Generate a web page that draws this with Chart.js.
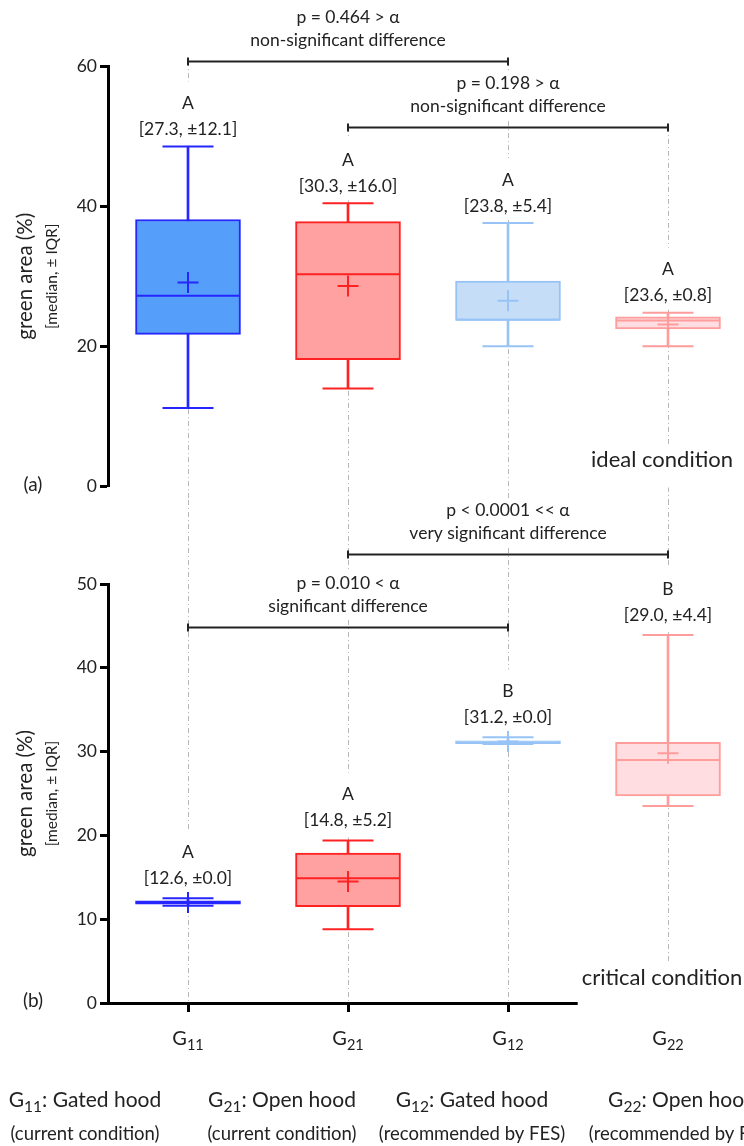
<!DOCTYPE html>
<html>
<head>
<meta charset="utf-8">
<script src="https://cdn.jsdelivr.net/npm/chart.js@4.4.1/dist/chart.umd.min.js"></script>
<style>
  html, body { margin: 0; padding: 0; background: #fff; }
  body { width: 744px; height: 1146px; overflow: hidden; position: relative; }
  #panelA { position: absolute; left: 0; top: 0; }
  #panelB { position: absolute; left: 0; top: 500px; }
</style>
</head>
<body>
<canvas id="panelA" width="760" height="500"></canvas>
<canvas id="panelB" width="760" height="646"></canvas>
<script>
// groups on the x axis
const categories = ['G11', 'G21', 'G12', 'G22'];
const hoodNames = [': Gated hood', ': Open hood', ': Gated hood', ': Open hood'];
const hoodNotes = ['(current condition)', '(current condition)', '(recommended by FES)', '(recommended by FES)'];

// (a) ideal condition - green area (%)
const idealWhiskerLow = [11.2, 14.0, 20.0, 20.0];
const idealQ1 = [21.7, 18.1, 23.7, 22.5];
const idealMedian = [27.2, 30.3, 23.8, 23.7];
const idealQ3 = [38.1, 37.8, 29.3, 24.2];
const idealWhiskerHigh = [48.5, 40.4, 37.6, 24.8];
const idealMean = [29.1, 28.6, 26.5, 23.1];
const idealLetters = ['A', 'A', 'A', 'A'];
const idealStats = ['[27.3, \u00b112.1]', '[30.3, \u00b116.0]', '[23.8, \u00b15.4]', '[23.6, \u00b10.8]'];
const idealTicks = [0, 20, 40, 60];
const idealPairs = [[0, 2], [1, 3]];
const idealPValues = ['p = 0.464 > \u03b1', 'p = 0.198 > \u03b1'];
const idealVerdicts = ['non-significant difference', 'non-significant difference'];

// (b) critical condition - green area (%)
const criticalWhiskerLow = [11.6, 8.8, 30.9, 23.5];
const criticalQ1 = [11.8, 11.5, 30.95, 24.7];
const criticalMedian = [12.0, 14.9, 31.1, 29.0];
const criticalQ3 = [12.2, 17.9, 31.3, 31.1];
const criticalWhiskerHigh = [12.5, 19.4, 31.7, 43.9];
const criticalMean = [12.0, 14.5, 31.2, 29.8];
const criticalLetters = ['A', 'A', 'B', 'B'];
const criticalStats = ['[12.6, \u00b10.0]', '[14.8, \u00b15.2]', '[31.2, \u00b10.0]', '[29.0, \u00b14.4]'];
const criticalTicks = [0, 10, 20, 30, 40, 50];
const criticalPairs = [[1, 3], [0, 2]];
const criticalPValues = ['p < 0.0001 << \u03b1', 'p = 0.010 < \u03b1'];
const criticalVerdicts = ['very significant difference', 'significant difference'];

const FONT = 'Lato, "Open Sans", "DejaVu Sans", sans-serif';
const INK = '#222';
const boxStroke = ['#2626ff', '#ff2222', '#98c3f6', '#ff9c9c'];
const boxFill = ['#559ef9', '#ffa1a1', '#c6ddf7', '#ffdde0'];
const TXT = 17.5;

function mark(data, style, r) {
  return {
    type: 'line', data, showLine: false, order: 1,
    pointStyle: style, pointRadius: r, pointHoverRadius: r,
    pointBorderWidth: 2, pointHoverBorderWidth: 2,
    pointBorderColor: boxStroke, pointBackgroundColor: boxStroke
  };
}

function boxDatasets(p) {
  return [
    { type: 'bar', data: p.low.map((v, i) => [v, p.high[i]]), backgroundColor: boxStroke,
      barThickness: 2, grouped: false, order: 3 },
    { type: 'bar', data: p.q1.map((v, i) => [v, p.q3[i]]), backgroundColor: boxFill,
      borderColor: boxStroke, borderWidth: 2, borderSkipped: false,
      barThickness: 105, grouped: false, order: 2 },
    mark(p.high, 'line', 25.5),
    mark(p.low, 'line', 25.5),
    mark(p.median, 'line', 51.5),
    mark(p.mean, 'cross', 10.5)
  ];
}

function text(ctx, s, x, y, size, align) {
  ctx.font = size + 'px ' + FONT;
  ctx.fillStyle = INK;
  ctx.textAlign = align || 'center';
  ctx.textBaseline = 'middle';
  ctx.fillText(s, x, y);
}

function width(ctx, s, size) {
  ctx.font = size + 'px ' + FONT;
  return ctx.measureText(s).width;
}

function blank(ctx, cx, w, y0, y1) {
  ctx.fillStyle = '#fff';
  ctx.fillRect(cx - w / 2, y0, w, y1 - y0);
}

// text with subscripts: runs of [string, size, dy]
function runs(ctx, parts, cx, y) {
  let w = 0;
  parts.forEach(r => { w += width(ctx, r[0], r[1]); });
  let xx = cx - w / 2;
  ctx.fillStyle = INK;
  ctx.textAlign = 'left';
  ctx.textBaseline = 'alphabetic';
  parts.forEach(r => {
    ctx.font = r[1] + 'px ' + FONT;
    ctx.fillText(r[0], xx, y + r[2]);
    xx += ctx.measureText(r[0]).width;
  });
}

function decor(p, lay) {
  return {
    id: 'decor',
    beforeDatasetsDraw(chart) {
      const { ctx, chartArea: a, scales: { x, y } } = chart;
      ctx.save();

      // dash-dot guides through each group
      ctx.strokeStyle = '#b8b8b8';
      ctx.lineWidth = 1;
      ctx.setLineDash([5, 3, 1, 3]);
      categories.forEach((c, i) => {
        let top = 0;
        if (lay.guidesFromBrackets) {
          const lv = p.pairs.map((pr, k) => pr.includes(i) ? lay.bracketLevels[k] : -Infinity);
          top = y.getPixelForValue(Math.max(...lv));
        }
        const gx = Math.round(x.getPixelForValue(i)) + 0.5;
        ctx.beginPath();
        ctx.moveTo(gx, top);
        ctx.lineTo(gx, lay.guidesToEnd ? chart.height : a.bottom);
        ctx.stroke();
      });
      ctx.setLineDash([]);

      // comparison brackets
      p.pairs.forEach((pr, k) => {
        const yb = Math.round(y.getPixelForValue(lay.bracketLevels[k])) + 0.5;
        const x1 = x.getPixelForValue(pr[0]), x2 = x.getPixelForValue(pr[1]);
        const xm = (x1 + x2) / 2;
        const w = Math.max(width(ctx, p.pValues[k], TXT), width(ctx, p.verdicts[k], TXT)) + 8;
        blank(ctx, xm, w, yb - 56, yb - 8);
        text(ctx, p.pValues[k], xm, yb - 44, TXT);
        text(ctx, p.verdicts[k], xm, yb - 21, TXT);
        ctx.strokeStyle = '#222';
        ctx.lineWidth = 2;
        ctx.beginPath();
        ctx.moveTo(x1, yb); ctx.lineTo(x2, yb);
        ctx.moveTo(x1, yb - 4); ctx.lineTo(x1, yb + 4);
        ctx.moveTo(x2, yb - 4); ctx.lineTo(x2, yb + 4);
        ctx.stroke();
      });

      // letters and [median, IQR] above each box
      categories.forEach((c, i) => {
        const wt = y.getPixelForValue(p.high[i]);
        const ly = wt - lay.letterGap, sy = wt - lay.statGap;
        blank(ctx, x.getPixelForValue(i), width(ctx, p.stats[i], TXT) + 6, ly - 22, wt - 3);
        text(ctx, p.letters[i], x.getPixelForValue(i), ly, TXT);
        text(ctx, p.stats[i], x.getPixelForValue(i), sy, TXT);
      });

      // condition note
      const nx = x.getPixelForValue(3) - 6;
      const ny = a.bottom - lay.noteLift;
      blank(ctx, nx, width(ctx, lay.note, 22) + 8, ny - 15, ny + lay.noteBlankBelow);
      text(ctx, lay.note, nx, ny, 22);
      ctx.restore();
    },
    afterDraw(chart) {
      const { ctx, chartArea: a, scales: { x } } = chart;
      ctx.save();
      const mid = (a.top + a.bottom) / 2;
      ctx.translate(25, mid);
      ctx.rotate(-Math.PI / 2);
      text(ctx, 'green area (%)', 0, 0, 20.5);
      text(ctx, '[median, \u00b1 IQR]', 0, 27, 15.5);
      ctx.restore();
      ctx.save();
      text(ctx, lay.tag, 33, a.bottom - 2, 19);
      if (lay.showX) {
        categories.forEach((c, i) => {
          runs(ctx, [[c[0], 20, 0], [c.slice(1), 14.5, 5]], x.getPixelForValue(i), a.bottom + 42);
          const lx = lay.legendCenters[i];
          runs(ctx, [[c[0], 21, 0], [c.slice(1), 15.5, 5], [hoodNames[i], 21, 0]], lx, a.bottom + 104);
          runs(ctx, [[hoodNotes[i], 18.5, 0]], lx, a.bottom + 137);
        });
      }
      ctx.restore();
    }
  };
}

function buildPanel(id, p, lay) {
  return new Chart(document.getElementById(id), {
    type: 'bar',
    data: { labels: categories, datasets: boxDatasets(p) },
    options: {
      responsive: false,
      animation: false,
      events: [],
      layout: { autoPadding: false, padding: { top: lay.padTop, right: 12, bottom: lay.padBottom, left: 0 } },
      plugins: { legend: { display: false }, tooltip: { enabled: false } },
      scales: {
        x: {
          display: lay.showX,
          offset: true,
          ticks: { display: false },
          grid: { offset: false, drawOnChartArea: false, tickLength: 9, tickWidth: 3, color: '#000' },
          border: { width: 3, color: '#000' },
          afterFit: s => { s.height = lay.xHeight; }
        },
        y: {
          min: 0,
          max: p.ticks[p.ticks.length - 1],
          afterBuildTicks: s => { s.ticks = p.ticks.map(v => ({ value: v })); },
          ticks: { font: { family: FONT, size: 17.5 }, color: INK, padding: 3 },
          grid: { drawOnChartArea: false, tickLength: 8, tickWidth: 3, color: '#000' },
          border: { width: 3, color: '#000' },
          afterFit: s => { s.width = 108; }
        }
      }
    },
    plugins: [decor(p, lay)]
  });
}

buildPanel('panelA', {
  low: idealWhiskerLow, q1: idealQ1, median: idealMedian, q3: idealQ3, high: idealWhiskerHigh,
  mean: idealMean, letters: idealLetters, stats: idealStats, ticks: idealTicks,
  pairs: idealPairs, pValues: idealPValues, verdicts: idealVerdicts
}, {
  padTop: 66, padBottom: 11, showX: false, xHeight: 0,
  bracketLevels: [60.7, 51.3], guidesFromBrackets: true, guidesToEnd: true,
  letterGap: 43, statGap: 17, note: 'ideal condition', noteLift: 27, noteBlankBelow: 28, tag: '(a)'
});

buildPanel('panelB', {
  low: criticalWhiskerLow, q1: criticalQ1, median: criticalMedian, q3: criticalQ3, high: criticalWhiskerHigh,
  mean: criticalMean, letters: criticalLetters, stats: criticalStats, ticks: criticalTicks,
  pairs: criticalPairs, pValues: criticalPValues, verdicts: criticalVerdicts
}, {
  padTop: 84, padBottom: 0, showX: true, xHeight: 143,
  bracketLevels: [53.6, 44.9], guidesFromBrackets: false, guidesToEnd: false,
  letterGap: 46, statGap: 20, note: 'critical condition', noteLift: 25, noteBlankBelow: 40, tag: '(b)',
  legendCenters: [85, 282, 472, 682]
});
</script>
</body>
</html>
